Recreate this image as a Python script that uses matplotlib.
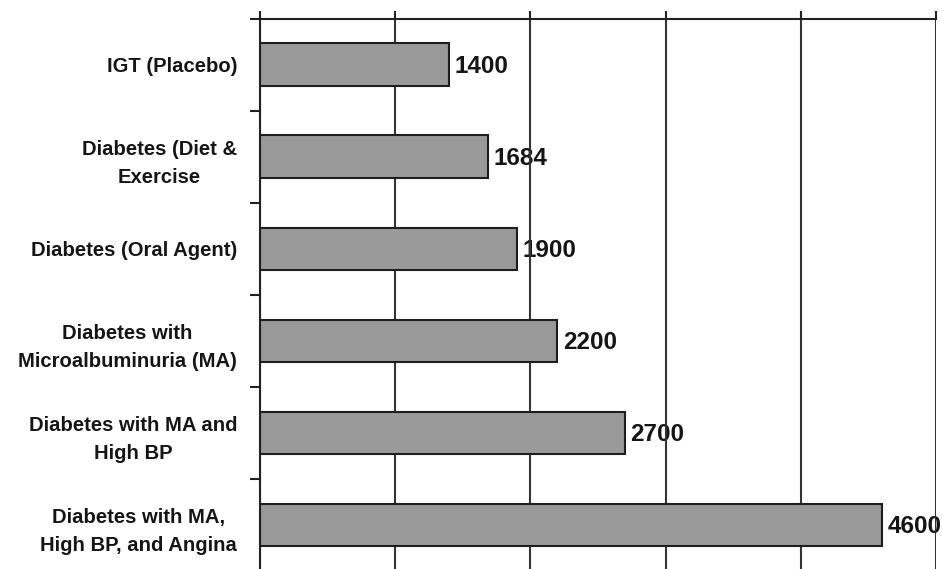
import matplotlib
matplotlib.use("Agg")
import matplotlib.pyplot as plt
import numpy as np

categories = [
    "IGT (Placebo)",
    "Diabetes (Diet &\nExercise",
    "Diabetes (Oral Agent)",
    "Diabetes with\nMicroalbuminuria (MA)",
    "Diabetes with MA and\nHigh BP",
    "Diabetes with MA,\nHigh BP, and Angina",
]
values = [1400, 1684, 1900, 2200, 2700, 4600]
x_ticks = [0, 1000, 2000, 3000, 4000, 5000]

plt.rcParams["font.family"] = ["Liberation Sans", "DejaVu Sans"]

fig = plt.figure(figsize=(9.42, 5.69), dpi=100)
ax = fig.add_axes([260 / 942, 1 - 571 / 569, (936 - 260) / 942, (571 - 18.5) / 569])

n = len(categories)
pos = np.arange(n)
ax.barh(pos, values, height=0.46, color="#999999", edgecolor="#1e1e1e",
        linewidth=1.5, zorder=3)

for p, v in zip(pos, values):
    ax.text(v + 40, p + 0.02, f"{v}", va="center", ha="left", fontsize=17.5,
            fontweight="bold", color="#151515", zorder=1)

ax.set_xlim(0, 5000)
ax.set_ylim(n - 0.5, -0.5)

ax.xaxis.tick_top()
ax.set_xticks(x_ticks)
ax.set_xticklabels([])
ax.tick_params(axis="x", which="major", direction="out", length=6,
               width=1.5, color="#222222")
ax.grid(axis="x", color="#333333", linewidth=1.5, zorder=2)

ax.set_yticks(pos)
ax.set_yticklabels(categories, fontsize=14.6, fontweight="bold",
                   color="#151515", multialignment="center", linespacing=1.6)
ax.tick_params(axis="y", which="major", length=0, pad=16.5)
ax.set_yticks(np.arange(n + 1) - 0.5, minor=True)
ax.tick_params(axis="y", which="minor", direction="out", length=7,
               width=1.5, color="#222222")

for side in ["left", "top"]:
    ax.spines[side].set_linewidth(1.5)
    ax.spines[side].set_color("#222222")
for side in ["right", "bottom"]:
    ax.spines[side].set_visible(False)

fig.savefig("out.png", dpi=100)
